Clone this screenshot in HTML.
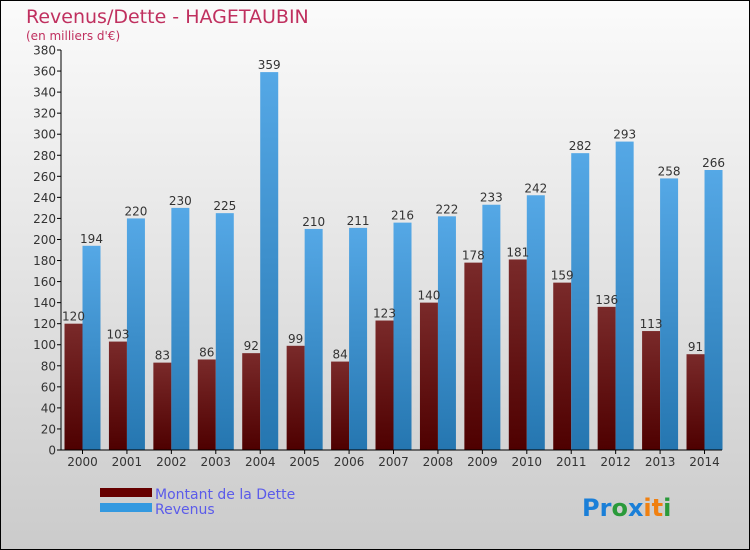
<!DOCTYPE html>
<html><head><meta charset="utf-8"><style>
body{margin:0;width:750px;height:550px;overflow:hidden}
svg{display:block;font-family:"DejaVu Sans","Liberation Sans",sans-serif}
</style></head><body>
<svg id="c" width="750" height="550">
<defs>
<linearGradient id="bg" x1="0" y1="0" x2="0" y2="1"><stop offset="0" stop-color="#fbfbfb"/><stop offset="1" stop-color="#cbcbcb"/></linearGradient>
<linearGradient id="gd" x1="0" y1="0" x2="0" y2="1"><stop offset="0" stop-color="#7a2a2a"/><stop offset="1" stop-color="#4e0000"/></linearGradient>
<linearGradient id="gr" x1="0" y1="0" x2="0" y2="1"><stop offset="0" stop-color="#55a8e6"/><stop offset="1" stop-color="#2576b0"/></linearGradient>
</defs>
<rect x="0.5" y="0.5" width="749" height="549" fill="url(#bg)" stroke="#000"/>
<text x="26" y="23" font-size="19" fill="#c0305f">Revenus/Dette - HAGETAUBIN</text>
<text x="26" y="40" font-size="12" fill="#c0305f">(en milliers d'€)</text>
<g id="plot"></g>
<rect x="100" y="488" width="52" height="9" fill="#660000"/>
<rect x="100" y="503" width="52" height="9" fill="#3399e0"/>
<text x="155" y="499" font-size="14" fill="#5b5bea">Montant de la Dette</text>
<text x="155" y="514" font-size="14" fill="#5b5bea">Revenus</text>
<text x="582" y="516" font-size="24" font-weight="bold"><tspan fill="#1a7fd8">Pr</tspan><tspan fill="#2a9a3a">o</tspan><tspan fill="#1a7fd8">x</tspan><tspan fill="#f08010">i</tspan><tspan fill="#f08010">t</tspan><tspan fill="#2a9a3a">i</tspan></text>
</svg>
<script>
const years=["2000","2001","2002","2003","2004","2005","2006","2007","2008","2009","2010","2011","2012","2013","2014"];
const dette=[120,103,83,86,92,99,84,123,140,178,181,159,136,113,91];
const revenus=[194,220,230,225,359,210,211,216,222,233,242,282,293,258,266];
const yTicks=[0,20,40,60,80,100,120,140,160,180,200,220,240,260,280,300,320,340,360,380];
const NS="http://www.w3.org/2000/svg";
const g=document.getElementById("plot");
const y=v=>450-v*400/380;
const gx=i=>63.5+i*44.43;
function mk(t,a,txt){const e=document.createElementNS(NS,t);for(const k in a)e.setAttribute(k,a[k]);if(txt!==undefined)e.textContent=txt;g.appendChild(e);return e;}
yTicks.forEach(v=>{
const l=mk("line",{x1:57,x2:61,y1:y(v),y2:y(v),stroke:"#000"});


const t=mk("text",{x:56,y:y(v)+4.5,"font-size":12,fill:"#333","text-anchor":"end"},v);


});
years.forEach((yr,i)=>{
const s=gx(i);
const b1=mk("rect",{x:s+1,y:y(dette[i]),width:18,height:450-y(dette[i]),fill:"url(#gd)"});


const b2=mk("rect",{x:s+19,y:y(revenus[i]),width:18,height:450-y(revenus[i]),fill:"url(#gr)"});


const t1=mk("text",{x:s+10,y:y(dette[i])-3,"font-size":12,fill:"#333","text-anchor":"middle"},dette[i]);


const t2=mk("text",{x:s+28,y:y(revenus[i])-3,"font-size":12,fill:"#333","text-anchor":"middle"},revenus[i]);


const tk=mk("line",{x1:s+19,x2:s+19,y1:450,y2:454,stroke:"#000"});


const xl=mk("text",{x:s+19,y:466,"font-size":12,fill:"#333","text-anchor":"middle"},yr);


});
const ya=mk("line",{x1:61,x2:61,y1:50,y2:450,stroke:"#000"});


const xa=mk("line",{x1:61,x2:722,y1:450,y2:450,stroke:"#000"});


</script>
</body></html>
